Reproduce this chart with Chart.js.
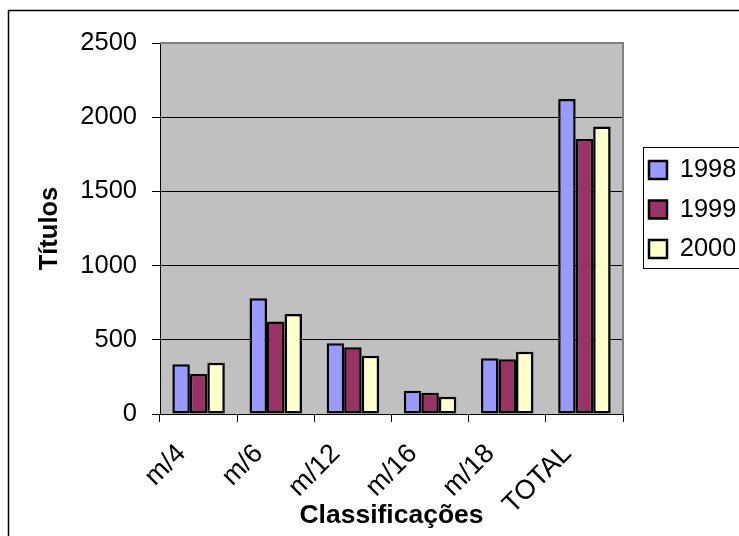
<!DOCTYPE html>
<html>
<head>
<meta charset="utf-8">
<script src="https://cdn.jsdelivr.net/npm/chart.js@4.4.1/dist/chart.umd.min.js"></script>
<style>
  html, body { margin: 0; padding: 0; background: #fff; }
  #wrap { width: 739px; height: 536px; position: relative; }
</style>
</head>
<body>
<div id="wrap"><canvas id="grafico"></canvas></div>
<script>
// dados
const categorias = ['m/4', 'm/6', 'm/12', 'm/16', 'm/18', 'TOTAL'];
const anos = ['1998', '1999', '2000'];
const valores1998 = [335, 780, 477, 157, 375, 2122];
const valores1999 = [270, 623, 450, 144, 369, 1853];
const valores2000 = [345, 674, 393, 117, 420, 1938];
const ticksY = [0, 500, 1000, 1500, 2000, 2500];

const cores = ['#9999FF', '#993366', '#FFFFCC'];
const fonte = 'Liberation Sans, Arial, sans-serif';

// fundo cinza da área do gráfico e moldura externa
const fundoPlot = {
    id: 'fundoPlot',
    beforeDraw(chart) {
        const {ctx, chartArea: a} = chart;
        ctx.save();
        ctx.fillStyle = '#C0C0C0';
        ctx.fillRect(a.left, a.top, a.right - a.left, a.bottom - a.top);
        // moldura da figura (sai pela direita e por baixo)
        ctx.strokeStyle = '#000';
        ctx.lineWidth = 1.5;
        ctx.beginPath();
        ctx.moveTo(8.5, chart.height + 2);
        ctx.lineTo(8.5, 10.5);
        ctx.lineTo(chart.width + 2, 10.5);
        ctx.stroke();
        ctx.restore();
    },
    afterDraw(chart) {
        const {ctx, chartArea: a} = chart;
        ctx.save();
        ctx.strokeStyle = '#808080';
        ctx.lineWidth = 2;
        ctx.beginPath();
        ctx.moveTo(a.left, a.top);
        ctx.lineTo(a.right, a.top);
        ctx.lineTo(a.right, a.bottom);
        ctx.stroke();
        ctx.restore();
    }
};

// legenda deslocada e com caixa
const caixaLegenda = {
    id: 'caixaLegenda',
    afterLayout(chart) {
        const lg = chart.legend;
        lg.left += 12; lg.right += 12;
        lg.top -= 80; lg.bottom -= 80;
    },
    afterDraw(chart) {
        const hb = chart.legend.legendHitBoxes;
        if (!hb || !hb.length) return;
        const ctx = chart.ctx;
        const x = Math.round(hb[0].left - 6) + 0.5;
        const y = Math.round(hb[0].top - 10) + 0.5;
        const ult = hb[hb.length - 1];
        const y2 = Math.round(ult.top + ult.height + 6) + 0.5;
        ctx.save();
        ctx.strokeStyle = '#000';
        ctx.lineWidth = 1;
        ctx.strokeRect(x, y, chart.width + 10 - x, y2 - y);
        ctx.restore();
    }
};

const ctx = document.getElementById('grafico').getContext('2d');
new Chart(ctx, {
    type: 'bar',
    data: {
        labels: categorias,
        datasets: [
            { label: anos[0], data: valores1998, backgroundColor: cores[0] },
            { label: anos[1], data: valores1999, backgroundColor: cores[1] },
            { label: anos[2], data: valores2000, backgroundColor: cores[2] }
        ].map(d => Object.assign(d, {
            borderColor: '#000',
            borderWidth: 2.5,
            borderSkipped: false,
            categoryPercentage: 0.68,
            barPercentage: 1.0
        }))
    },
    options: {
        responsive: true,
        maintainAspectRatio: false,
        animation: false,
        devicePixelRatio: 1,
        layout: { padding: { left: 20, top: 43, right: 16, bottom: 0 } },
        scales: {
            x: {
                grid: {
                    offset: true,
                    drawOnChartArea: false,
                    tickLength: 8,
                    tickColor: '#000',
                    color: '#000'
                },
                border: { color: '#000', width: 1 },
                ticks: {
                    color: '#000',
                    font: { family: fonte, size: 27 },
                    minRotation: 45,
                    maxRotation: 45,
                    padding: 16,
                    labelOffset: -17,
                    autoSkip: false
                },
                title: {
                    display: true,
                    text: 'Classificações',
                    color: '#000',
                    font: { family: fonte, size: 26.5, weight: 'bold' },
                    padding: { top: 0, bottom: 4 }
                },
                afterFit(scale) { scale.height = 536 - 414; }
            },
            y: {
                min: 0,
                max: 2500,
                afterBuildTicks(scale) { scale.ticks = ticksY.map(v => ({ value: v })); },
                grid: {
                    color: c => (c.tick && c.tick.value === 2500) ? '#808080' : '#000',
                    lineWidth: 1,
                    tickLength: 8,
                    tickColor: '#000'
                },
                border: { color: '#000', width: 1 },
                ticks: {
                    color: '#000',
                    font: { family: fonte, size: 25.5 },
                    padding: 15,
                    callback: v => String(v)
                },
                title: {
                    display: true,
                    text: 'Títulos',
                    color: '#000',
                    font: { family: fonte, size: 25.5, weight: 'bold' },
                    padding: { top: 15, bottom: 0 }
                },
                afterFit(scale) { scale.width = 160 - 20; }
            }
        },
        plugins: {
            legend: {
                display: true,
                position: 'right',
                maxWidth: 100,
                labels: {
                    color: '#000',
                    font: { family: fonte, size: 25.5 },
                    boxWidth: 18,
                    boxHeight: 18,
                    padding: 14
                }
            },
            tooltip: { enabled: false }
        }
    },
    plugins: [fundoPlot, caixaLegenda]
});
</script>
</body>
</html>
